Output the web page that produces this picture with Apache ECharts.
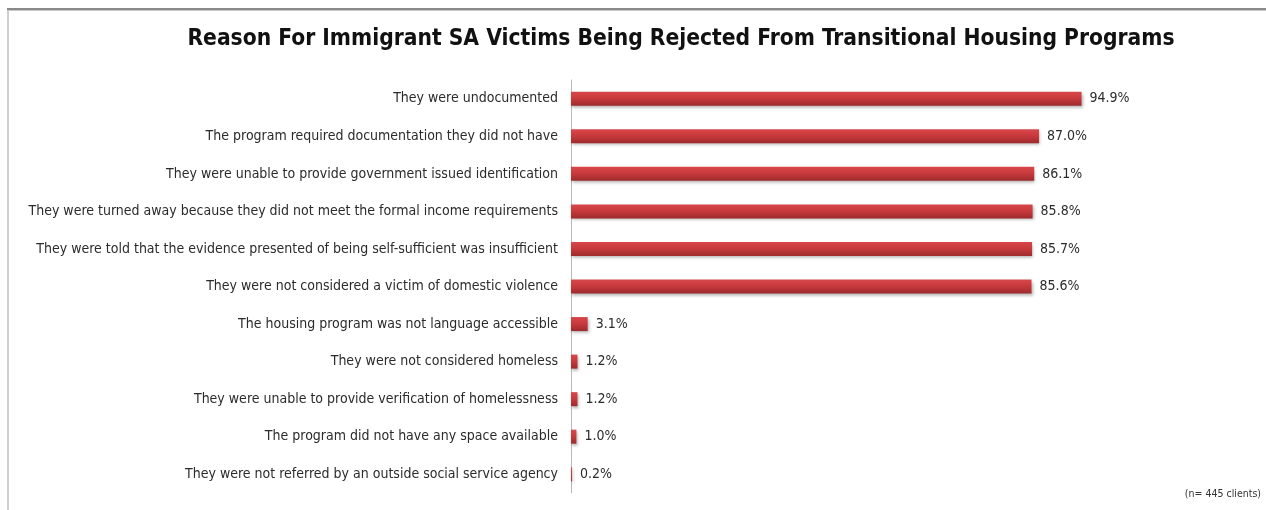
<!DOCTYPE html>
<html>
<head>
<meta charset="utf-8">
<script src="https://cdn.jsdelivr.net/npm/echarts@6/dist/echarts.min.js"></script>
<style>
  html, body { margin: 0; padding: 0; background: #ffffff; }
  #chart { width: 1266px; height: 510px; }
</style>
</head>
<body>
<div id="chart"></div>
<script>
// Reasons shown top to bottom, with share of clients (%)
const reasons = [
  'They were undocumented',
  'The program required documentation they did not have',
  'They were unable to provide government issued identification',
  'They were turned away because they did not meet the formal income requirements',
  'They were told that the evidence presented of being self-sufficient was insufficient',
  'They were not considered a victim of domestic violence',
  'The housing program was not language accessible',
  'They were not considered homeless',
  'They were unable to provide verification of homelessness',
  'The program did not have any space available',
  'They were not referred by an outside social service agency'
];
const percentages = [94.9, 87.0, 86.1, 85.8, 85.7, 85.6, 3.1, 1.2, 1.2, 1.0, 0.2];

const titleText = 'Reason For Immigrant SA Victims Being Rejected From Transitional Housing Programs';
const noteText = '(n= 445 clients)';

const FONT = '"Liberation Sans Narrow", "DejaVu Sans Condensed", "Liberation Sans", sans-serif';

const chart = echarts.init(document.getElementById('chart'), null, { renderer: 'canvas' });

chart.setOption({
  animation: false,
  backgroundColor: '#ffffff',
  title: {
    text: titleText,
    left: 676,
    textAlign: 'center',
    top: 23,
    textStyle: { fontFamily: FONT, fontSize: 22.6, fontWeight: 'bold', color: '#111111' }
  },
  graphic: [
    // frame lines along the top and left
    { type: 'rect', shape: { x: 7, y: 8, width: 1259, height: 2 }, style: { fill: '#8a8a8a' }, silent: true },
    { type: 'rect', shape: { x: 7, y: 10, width: 1259, height: 1 }, style: { fill: '#c8c8c8' }, silent: true },
    { type: 'rect', shape: { x: 7, y: 10, width: 2, height: 500 }, style: { fill: '#cfcfcf' }, silent: true },
    {
      type: 'text', right: 5, top: 489,
      style: { text: noteText, font: '10.5px ' + FONT, fill: '#333333' }
    }
  ],
  grid: {
    left: 571, top: 80, width: 538, height: 413,
    containLabel: false,
    outerBoundsMode: 'none'
  },
  xAxis: {
    type: 'value',
    min: 0,
    max: 100,
    show: false
  },
  yAxis: {
    type: 'category',
    data: reasons,
    inverse: true,
    axisLine: { show: true, lineStyle: { color: '#b8b8b8', width: 1 } },
    axisTick: { show: false },
    axisLabel: { fontFamily: FONT, fontSize: 14, color: '#2b2b2b', margin: 13 }
  },
  series: [{
    type: 'bar',
    data: percentages,
    barWidth: 14,
    itemStyle: {
      color: new echarts.graphic.LinearGradient(0, 0, 0, 1, [
        { offset: 0, color: '#d8484b' },
        { offset: 0.45, color: '#c93a3d' },
        { offset: 1, color: '#9e2a2c' }
      ]),
      shadowColor: 'rgba(0,0,0,0.3)',
      shadowBlur: 3,
      shadowOffsetX: 1,
      shadowOffsetY: 2
    },
    label: {
      show: true,
      position: 'right',
      distance: 8,
      fontFamily: FONT,
      fontSize: 14,
      color: '#2b2b2b',
      formatter: p => p.value.toFixed(1) + '%'
    }
  }]
});
</script>
</body>
</html>
